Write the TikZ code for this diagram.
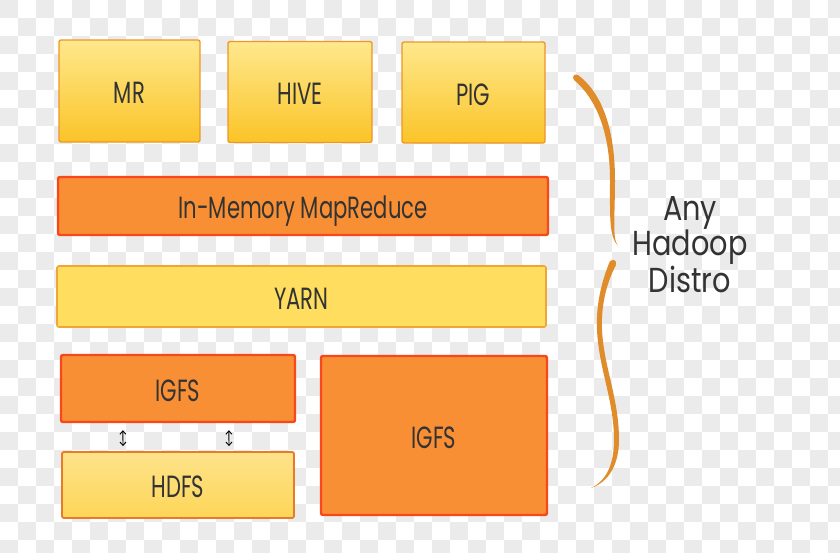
\documentclass[tikz,border=0pt]{standalone}
\usepackage{fontspec}
\setmainfont{Poppins}
\newfontfamily\boxfont[FakeStretch=0.69]{Poppins}
\newfontfamily\sidefont[FakeStretch=0.83]{Poppins}
\usetikzlibrary{arrows.meta,positioning}
\definecolor{ink}{RGB}{51,51,51}
\definecolor{checker}{RGB}{235,235,235}
\definecolor{apptop}{RGB}{254,232,140}
\definecolor{appbot}{RGB}{251,196,40}
\definecolor{appline}{RGB}{236,150,40}
\definecolor{hotfill}{RGB}{249,143,52}
\definecolor{hotline}{RGB}{246,72,26}
\definecolor{yarnfill}{RGB}{254,221,95}
\definecolor{yarnline}{RGB}{240,165,55}
\definecolor{hdfsfill}{RGB}{253,214,88}
\definecolor{hdfsline}{RGB}{232,122,40}
\definecolor{brace}{RGB}{224,140,42}
\newcommand{\pxl}{0.75pt}

\begin{document}
\begin{tikzpicture}[x=0.75pt,y=-0.75pt,
    layer/.style={draw,inner sep=0pt,rounded corners=1.5pt,text=ink,
      text height=19pt,text depth=0pt,font=\boxfont\fontsize{23}{26}\selectfont},
    appbox/.style={layer,draw=appline,line width=1pt,top color=apptop,bottom color=appbot},
    hotbox/.style={layer,draw=hotline,line width=1.8pt,fill=hotfill},
    yarnbox/.style={layer,draw=yarnline,line width=1.2pt,fill=yarnfill},
    hdfsbox/.style={layer,draw=hdfsline,line width=1.4pt,top color=hdfsfill!70!white,bottom color=hdfsfill},
    sync/.style={<->,>={Straight Barb[length=2.5pt,width=4.5pt]},line width=0.7pt,black}]
  \useasboundingbox (0,0) rectangle (840,553);
  \begin{scope}
    \clip (0,0) rectangle (840,553);
    \foreach \i in {0,...,46}{\foreach \j in {0,...,30}{
      \pgfmathtruncatemacro\chk{mod(\i+\j,2)}
      \ifnum\chk=0 \fill[checker] (18*\i,18*\j) rectangle ++(18,18);\fi}}
  \end{scope}
  % application layer
  \node[appbox,minimum width=141*\pxl,minimum height=102*\pxl] (mr) at (129.5,91) {MR};
  \node[appbox,minimum width=144*\pxl,minimum height=101*\pxl] (hive) at (300,92) {HIVE};
  \node[appbox,minimum width=143*\pxl,minimum height=101*\pxl] (pig) at (473.5,92.5) {PIG};
  % runtime layers
  \node[hotbox,minimum width=490*\pxl,minimum height=58*\pxl] (mapred) at (303,206) {In-Memory MapReduce};
  \node[yarnbox,minimum width=489*\pxl,minimum height=61*\pxl] (yarn) at (301.5,296.5) {YARN};
  % file systems
  \node[hotbox,minimum width=234*\pxl,minimum height=67*\pxl] (igfscache) at (178,388.5) {IGFS};
  \node[hdfsbox,minimum width=232*\pxl,minimum height=66*\pxl] (hdfs) at (178,485) {HDFS};
  \node[hotbox,minimum width=226*\pxl,minimum height=159*\pxl] (igfs) at (434,435.5) {IGFS};
  \draw[sync,shorten <=7*\pxl,shorten >=5*\pxl] ([xshift=63*\pxl]igfscache.south west) -- ([xshift=62*\pxl]hdfs.north west);
  \draw[sync,shorten <=7*\pxl,shorten >=5*\pxl] ([xshift=169*\pxl]igfscache.south west) -- ([xshift=168*\pxl]hdfs.north west);
  % brace
  \fill[brace] (574,80) .. controls (600,102) and (610,140) .. (610,180)
    .. controls (610,218) and (609,236) .. (618,246)
    .. controls (612,238) and (615,218) .. (615,180)
    .. controls (615,138) and (606,96) .. (578,75) -- cycle;
  \fill[brace] (576,77.5) circle (3);
  \fill[brace] (610,261) .. controls (600,285) and (596,308) .. (597,330)
    .. controls (599,370) and (614,400) .. (614,440)
    .. controls (614,465) and (606,481) .. (591,488)
    .. controls (609,482) and (619,464) .. (619,440)
    .. controls (619,398) and (604,368) .. (602,330)
    .. controls (601,306) and (606,284) .. (616,265) -- cycle;
  \fill[brace] (613,263) circle (3.2);
  \node[align=center,text=ink,font=\sidefont\fontsize{26}{26.25}\selectfont] (distro) at (690,245) {Any\\Hadoop\\Distro};
\end{tikzpicture}
\end{document}
